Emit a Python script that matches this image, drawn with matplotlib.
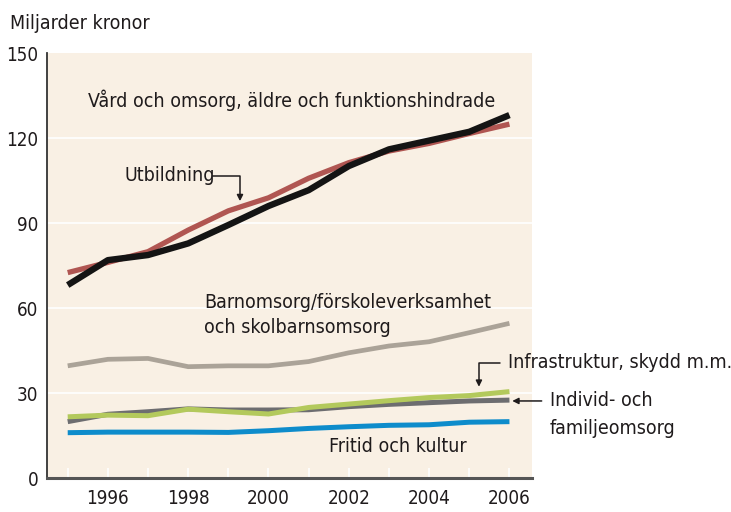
import matplotlib.pyplot as plt
from matplotlib import font_manager

years = list(range(1995, 2007))

# Miljarder kronor
vard = [68.2, 77.0, 78.8, 82.9, 89.4, 96.1, 101.7, 110.2, 116.1, 119.2, 122.3, 128.2]
utbildning = [72.6, 76.2, 80.0, 87.6, 94.4, 99.0, 105.9, 111.4, 115.5, 118.2, 121.7, 125.0]
barnomsorg = [39.7, 42.0, 42.3, 39.4, 39.7, 39.7, 41.2, 44.3, 46.7, 48.2, 51.4, 54.7]
infrastruktur = [21.7, 22.3, 22.1, 24.4, 23.5, 22.7, 25.0, 26.2, 27.4, 28.5, 29.2, 30.6]
individ = [20.0, 22.6, 23.5, 24.5, 24.1, 24.1, 24.2, 25.3, 26.1, 26.7, 27.3, 27.6]
fritid = [16.1, 16.3, 16.3, 16.3, 16.2, 16.8, 17.6, 18.2, 18.7, 18.9, 19.8, 20.0]

y_ticks = [0, 30, 60, 90, 120, 150]
x_label_years = [1996, 1998, 2000, 2002, 2004, 2006]

# condensed face if the system has one
names = {f.name for f in font_manager.fontManager.ttflist}
if 'Liberation Sans Narrow' in names:
    plt.rcParams['font.family'] = 'Liberation Sans Narrow'
else:
    plt.rcParams['font.family'] = 'DejaVu Sans'
    plt.rcParams['font.stretch'] = 'condensed'

txt = '#1f1b1c'
bg = '#f9f0e4'

fig = plt.figure(figsize=(7.31, 5.12), dpi=100)
ax = fig.add_axes([0.0639, 0.0658, 0.6635, 0.8301])
ax.set_facecolor(bg)

for v in y_ticks[1:-1]:
    ax.axhline(v, color='white', lw=1.2, zorder=1)

ax.plot(years, barnomsorg, color='#aba398', lw=3.4, solid_capstyle='butt', zorder=3)
ax.plot(years, fritid, color='#0e8ccb', lw=3.6, solid_capstyle='butt', zorder=3)
ax.plot(years, individ, color='#6d6d70', lw=3.6, solid_capstyle='butt', zorder=3)
ax.plot(years, infrastruktur, color='#b3c95c', lw=3.6, solid_capstyle='butt', zorder=4)
ax.plot(years, utbildning, color='#b05652', lw=3.8, solid_capstyle='butt', zorder=4)
ax.plot(years, vard, color='#141414', lw=4.6, solid_capstyle='butt', zorder=5)

ax.set_xlim(1994.477, 2006.555)
ax.set_ylim(0, 150)

ax.set_xticks(years)
ax.set_xticklabels([str(y) if y in x_label_years else '' for y in years])
ax.set_yticks(y_ticks)
ax.tick_params(axis='x', direction='in', length=7.5, width=1.2, color='white',
               labelsize=13.5, labelcolor=txt, pad=8)
ax.tick_params(axis='y', length=0, labelsize=13.5, labelcolor=txt, pad=6)

for s in ['top', 'right']:
    ax.spines[s].set_visible(False)
ax.spines['left'].set_color('#333333')
ax.spines['left'].set_linewidth(1.3)
ax.spines['bottom'].set_color('#555555')
ax.spines['bottom'].set_linewidth(2.2)

fig.text(0.013, 0.955, 'Miljarder kronor', fontsize=14, color=txt, va='center')

ax.text(1995.5, 133.3, 'Vård och omsorg, äldre och funktionshindrade',
        fontsize=14, color=txt, va='center')
ax.text(1996.42, 106.8, 'Utbildning', fontsize=14, color=txt, va='center')
ax.annotate('', xy=(1999.29, 97.8), xytext=(1998.6, 106.8),
            arrowprops=dict(arrowstyle='-|>', color=txt, lw=1.1,
                            connectionstyle='angle,angleA=0,angleB=90,rad=0',
                            mutation_scale=9, shrinkA=0, shrinkB=0))
ax.text(1998.4, 57.7, 'Barnomsorg/förskoleverksamhet\noch skolbarnsomsorg',
        fontsize=14, color=txt, va='center', linespacing=1.4)
ax.text(2001.5, 11.1, 'Fritid och kultur', fontsize=14, color=txt, va='center')

ax.annotate('Infrastruktur, skydd m.m.', xy=(2005.24, 32.3), xytext=(2005.96, 40.8),
            fontsize=14, color=txt, va='center', ha='left', annotation_clip=False,
            arrowprops=dict(arrowstyle='-|>', color=txt, lw=1.1, relpos=(0, 0.5),
                            connectionstyle='angle,angleA=0,angleB=90,rad=0',
                            mutation_scale=9, shrinkA=4, shrinkB=0))
ax.annotate('Individ- och', xy=(2006.07, 27.3), xytext=(2007.01, 27.3),
            fontsize=14, color=txt, va='center', ha='left', annotation_clip=False,
            arrowprops=dict(arrowstyle='-|>', color=txt, lw=1.1, relpos=(0, 0.5),
                            mutation_scale=9, shrinkA=4, shrinkB=0))
ax.text(2007.01, 17.7, 'familjeomsorg', fontsize=14, color=txt, va='center',
        ha='left', clip_on=False)

fig.savefig('out.png', dpi=100)
